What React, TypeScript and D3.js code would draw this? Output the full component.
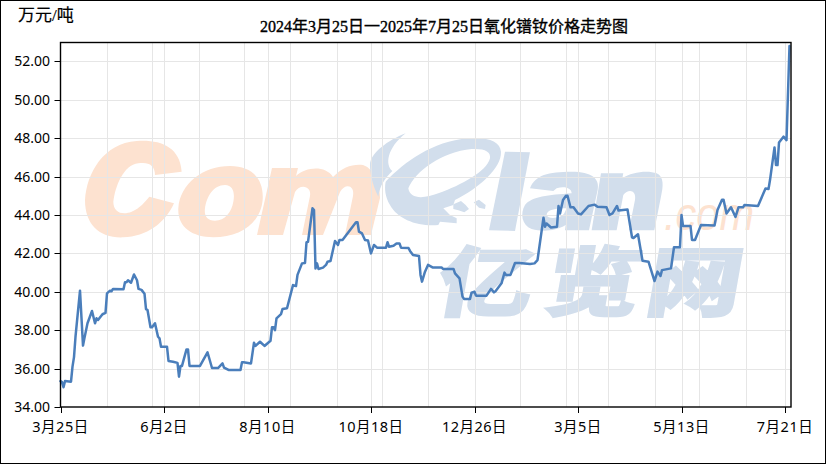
import React from "react";
import * as d3 from "d3";

const title = "2024年3月25日一2025年7月25日氧化镨钕价格走势图";
const unit = "万元/吨";
const yTicks = [34, 36, 38, 40, 42, 44, 46, 48, 50, 52];
const xTickDays = [0, 69, 138, 207, 276, 345, 414, 483];
const xTickLabels = ["3月25日", "6月2日", "8月10日", "10月18日", "12月26日", "3月5日", "5月13日", "7月21日"];
const monthGridDays = [31, 61, 92, 122, 153, 184, 214, 245, 306, 337, 365, 396, 426, 457];

const days = [
  0, 1, 2, 3, 7, 8, 9, 10, 13, 15, 16, 18, 21, 23, 24, 25, 28, 30, 31, 33, 34, 35, 42, 43, 44, 45, 47, 49, 51, 52,
  54, 56, 57, 58, 60, 61, 63, 65, 66, 67, 71, 72, 75, 78, 79, 80, 81, 84, 85, 86, 93, 98, 101, 105, 108, 109, 112, 120, 121, 122,
  127, 129, 130, 133, 136, 140, 141, 142, 143, 144, 147, 148, 151, 155, 157, 158, 161, 163, 164, 165, 168, 169, 170, 171, 172, 175, 177, 178, 180, 183,
  185, 186, 188, 197, 198, 199, 201, 203, 205, 207, 209, 211, 217, 218, 219, 222, 224, 226, 227, 232, 233, 235, 239, 240, 241, 243, 245, 248, 254, 255,
  262, 263, 266, 268, 269, 273, 274, 276, 277, 284, 287, 289, 290, 294, 296, 297, 300, 303, 306, 313, 316, 318, 322, 323, 324, 327, 331, 332, 333, 335,
  337, 338, 340, 342, 345, 347, 352, 356, 358, 364, 366, 368, 371, 372, 378, 381, 382, 385, 388, 392, 396, 398, 400, 401, 407, 409, 413, 414, 415, 420,
  421, 423, 427, 436, 438, 441, 442, 444, 447, 450, 452, 455, 456, 465, 470, 472, 473, 476, 477, 478, 479, 482, 484, 486,
];
const prices = [
  35.35, 35.3, 35.03, 35.35, 35.32, 36.1, 36.6, 37.66, 40.06, 37.2, 37.6, 38.36, 39.0, 38.36, 38.62, 38.53, 38.83, 38.9, 39.92, 40.06, 40.03, 40.15, 40.13, 40.5, 40.5, 40.6, 40.47, 40.9, 40.6, 40.15,
  40.1, 39.9, 39.1, 39.05, 38.15, 38.15, 38.36, 37.66, 37.58, 37.14, 37.14, 36.4, 36.36, 36.3, 35.58, 36.14, 36.14, 37.0, 37.0, 36.14, 36.14, 36.85, 36.03, 36.03, 36.27, 36.05, 35.93, 35.93, 36.33, 36.33,
  36.27, 37.35, 37.18, 37.4, 37.18, 37.45, 38.15, 38.15, 38.0, 38.62, 38.84, 39.1, 39.14, 40.35, 40.3, 40.88, 41.48, 41.5, 42.58, 42.6, 44.35, 44.26, 41.22, 41.48, 41.19, 41.26, 41.4, 41.57, 41.6, 42.65,
  42.44, 42.7, 42.7, 43.62, 43.62, 43.13, 43.04, 42.7, 42.67, 42.0, 42.44, 42.3, 42.3, 42.58, 42.35, 42.4, 42.52, 42.52, 42.3, 42.28, 42.13, 41.92, 41.86, 40.88, 40.53, 41.05, 41.4, 41.27, 41.27, 41.19,
  41.19, 40.96, 40.7, 39.75, 39.63, 39.63, 39.95, 40.0, 39.8, 39.8, 40.15, 39.97, 40.03, 40.44, 41.0, 40.88, 40.88, 41.5, 41.5, 41.45, 41.48, 41.65, 43.86, 43.39, 43.56, 43.35, 43.39, 44.47, 44.08, 44.78,
  45.0, 45.0, 44.4, 44.4, 44.08, 44.03, 44.47, 44.54, 44.43, 44.4, 44.0, 44.08, 44.47, 44.23, 44.29, 42.84, 42.8, 43.0, 41.62, 41.57, 40.56, 41.05, 40.82, 41.13, 41.22, 42.32, 42.32, 44.0, 43.43, 43.43,
  42.7, 42.7, 43.48, 43.45, 44.26, 44.8, 44.8, 44.08, 44.4, 43.9, 44.4, 44.4, 44.52, 44.47, 45.38, 45.35, 45.82, 47.52, 46.6, 46.6, 47.77, 48.08, 47.9, 52.8,
];

const W = 826;
const H = 464;
const left = 60.5;
const right = 791;
const top = 42.5;
const bottom = 407;

const x = d3.scaleLinear().domain([0, 487]).range([left, right]);
const y = d3.scaleLinear().domain([34, 53]).range([bottom, bottom - 19 * 19.2]);
const line = d3
  .line<number>()
  .x((d) => x(d))
  .y((_, i) => y(prices[i]));

const sansCjk = "'Noto Sans', 'Noto Sans CJK SC', sans-serif";
const serifCjk = "'Liberation Serif', 'Noto Sans CJK SC', serif";
const wmOrange = "#fde2d0";
const wmBlue = "#d2deec";
const wmLatin = "'Liberation Sans', sans-serif";

function Watermark() {
  return (
    <g>
      <g fill={wmOrange}>
        <g transform="translate(70,130) scale(0.3333)">
          <path d="M45,210 C50,130 100,40 200,33 C270,28 330,50 335,125 L255,135 C255,105 235,95 205,100 C160,105 135,170 130,215 C130,250 160,255 185,245 C210,235 225,215 238,200 L312,220 C285,280 230,320 160,322 C90,325 45,285 45,210 Z" />
          <path
            fillRule="evenodd"
            d="M325,235 C330,160 400,108 480,108 C550,108 582,150 578,210 C572,280 510,322 430,322 C365,322 322,290 325,235 Z M405,235 C410,200 430,165 465,165 C490,165 495,190 490,215 C485,245 465,272 435,272 C410,272 402,255 405,235 Z"
          />
        </g>
        <path d="M272,168 L298,168 L296,176 C306,167 325,165 333,177 C343,167 352,164 363,165 C372,168 380,180 380,198 L371,235 L345,235 L353,196 C355,185 345,183 340,192 L323,235 L302,235 L310,196 C312,186 300,183 295,192 L283,235 L257,235 Z" />
      </g>
      <text x={664} y={230} fontFamily={wmLatin} fontStyle="italic" fontSize={46} fill={wmOrange} textLength={90} lengthAdjust="spacingAndGlyphs">
        .com
      </text>
      <g transform="translate(375,125) scale(0.3333)" fill={wmBlue}>
        <path d="M92,25 C40,45 -15,85 -15,120 C-15,140 -10,175 10,215 C15,180 30,160 52,138 C30,120 35,70 92,25 Z" />
        <path
          fillRule="evenodd"
          d="M32,170 C90,110 170,50 280,40 C340,35 375,50 378,80 C380,130 310,190 240,225 L235,240 L205,250 L225,270 L245,280 L245,295 L195,290 L190,300 C130,305 70,285 45,240 C30,215 28,190 32,170 Z M100,190 C120,140 200,80 290,72 C330,70 348,80 345,100 C335,140 260,180 190,205 C150,220 105,225 100,190 Z"
        />
        <path d="M235,238 L258,228 L272,240 L282,252 L268,262 L250,256 L235,252 Z" />
        <path d="M296,232 L312,224 L332,240 L330,252 L312,248 Z" />
        <path d="M390,80 L465,82 L420,318 L342,316 Z" />
        <path
          fillRule="evenodd"
          d="M465,190 C480,150 520,140 590,140 C650,140 675,160 668,195 L642,316 L570,316 L572,300 C540,320 500,320 470,312 C440,300 435,265 450,240 C470,215 520,210 590,205 C590,190 570,182 545,190 L535,198 Z M575,250 C540,250 515,255 515,270 C518,285 560,280 568,265 Z"
        />
        <path d="M678,145 L745,145 L742,160 C770,140 820,135 845,145 C868,155 865,185 858,215 L838,316 L762,316 L780,225 C785,195 760,190 745,210 L725,316 L650,316 Z" />
      </g>
      <g fill={wmBlue} stroke={wmBlue} strokeWidth={2} fontFamily="'Noto Sans CJK SC', sans-serif" fontWeight={900} fontSize={76}>
        <text transform="translate(434,310) skewX(-10) scale(1.25,1)">亿</text>
        <text transform="translate(541,310) skewX(-10) scale(1.25,1)">览</text>
        <text transform="translate(643,310) skewX(-10) scale(1.25,1)">网</text>
      </g>
    </g>
  );
}

export default function App() {
  return (
    <svg width={W} height={H} viewBox={`0 0 ${W} ${H}`} style={{ position: "absolute", left: 0, top: 0, background: "#fff" }}>
      <rect x={0.5} y={0.5} width={W - 1} height={H - 1} fill="#fff" stroke="#000" />
      <Watermark />
      <g stroke="#e6e6e6" strokeWidth={1}>
        {monthGridDays.concat(xTickDays.slice(1)).map((d) => (
          <line key={d} x1={Math.round(x(d)) + 0.5} x2={Math.round(x(d)) + 0.5} y1={top} y2={bottom} />
        ))}
        {yTicks.slice(1).map((v) => (
          <line key={v} x1={left} x2={right} y1={Math.round(y(v)) + 0.5} y2={Math.round(y(v)) + 0.5} />
        ))}
      </g>
      <path d={line(days) ?? ""} fill="none" stroke="#4a7ebb" strokeWidth={2.5} strokeLinejoin="round" strokeLinecap="round" />
      <rect x={left} y={top} width={right - left} height={bottom - top} fill="none" stroke="#000" strokeWidth={1.4} />
      {yTicks.map((v) => (
        <g key={v}>
          <line x1={left - 6} x2={left} y1={Math.round(y(v)) + 0.5} y2={Math.round(y(v)) + 0.5} stroke="#000" />
          <text x={50} y={y(v) + 5} textAnchor="end" fontFamily={sansCjk} fontSize={14} fill="#000">
            {d3.format(".2f")(v)}
          </text>
        </g>
      ))}
      {xTickDays.map((d, i) => (
        <g key={d}>
          <line x1={Math.round(x(d)) + 0.5} x2={Math.round(x(d)) + 0.5} y1={bottom} y2={bottom + 6} stroke="#000" />
          <text x={x(d)} y={432} textAnchor="middle" fontFamily={sansCjk} fontSize={14.5} letterSpacing={0.5} fill="#000">
            {xTickLabels[i]}
          </text>
        </g>
      ))}
      <text x={18} y={21} fontFamily={serifCjk} fontSize={17} fill="#000" stroke="#000" strokeWidth={0.2}>
        {unit}
      </text>
      <text x={260} y={32} fontFamily={serifCjk} fontSize={16} fill="#000" stroke="#000" strokeWidth={0.35} textLength={368} lengthAdjust="spacingAndGlyphs">
        {title}
      </text>
    </svg>
  );
}
